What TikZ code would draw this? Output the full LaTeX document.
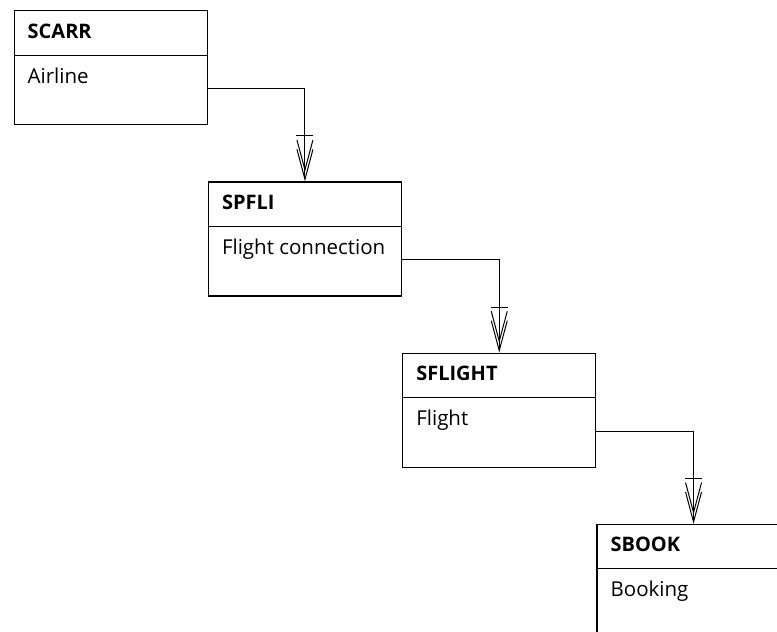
\documentclass[tikz,border=0pt]{standalone}
\usepackage{fontspec}
\setmainfont{Open Sans}
\usetikzlibrary{arrows.meta,positioning}

\tikzset{
  entity/.style={draw, line width=1.3pt, minimum width=193pt, minimum height=114pt, inner sep=0pt},
  rel/.style={line width=1pt, -{Bar[width=17pt,sep=3pt] Straight Barb[length=30pt,width=16pt,sep=-23pt] Straight Barb[length=30pt,width=16pt]}},
  title/.style={anchor=base west, inner sep=0pt, font=\bfseries\fontsize{20}{24}\selectfont},
  descr/.style={anchor=base west, inner sep=0pt, font=\fontsize{20.5}{24}\selectfont},
}

\begin{document}
\begin{tikzpicture}
\useasboundingbox (0,0) rectangle (777pt,-632pt);
\clip (0,0) rectangle (777pt,-632pt);
% tables
\node[entity, anchor=north west] (scarr) at (13.5pt,-10pt) {};
\node[entity, below right=56pt and 0pt of scarr.south east] (spfli) {};
\node[entity, below right=56pt and 0pt of spfli.south east] (sflight) {};
\node[entity, below right=56pt and 0pt of sflight.south east] (sbook) {};
% header line and texts
\foreach \n/\t/\d in {scarr/SCARR/Airline, spfli/SPFLI/Flight connection,
                      sflight/SFLIGHT/Flight, sbook/SBOOK/Booking} {
  \draw[line width=1pt] ([yshift=-45pt]\n.north west) -- ([yshift=-45pt]\n.north east);
  \node[title] (\n-t) at ([shift={(14pt,-28pt)}]\n.north west) {\t};
  \node[descr] (\n-d) at ([shift={(14pt,-73pt)}]\n.north west) {\d};
}
% 1:n relations
\draw[rel] ([yshift=-21pt]scarr.east) -| (spfli.north);
\draw[rel] ([yshift=-21pt]spfli.east) -| (sflight.north);
\draw[rel] ([yshift=-21pt]sflight.east) -| (sbook.north);
\end{tikzpicture}
\end{document}
